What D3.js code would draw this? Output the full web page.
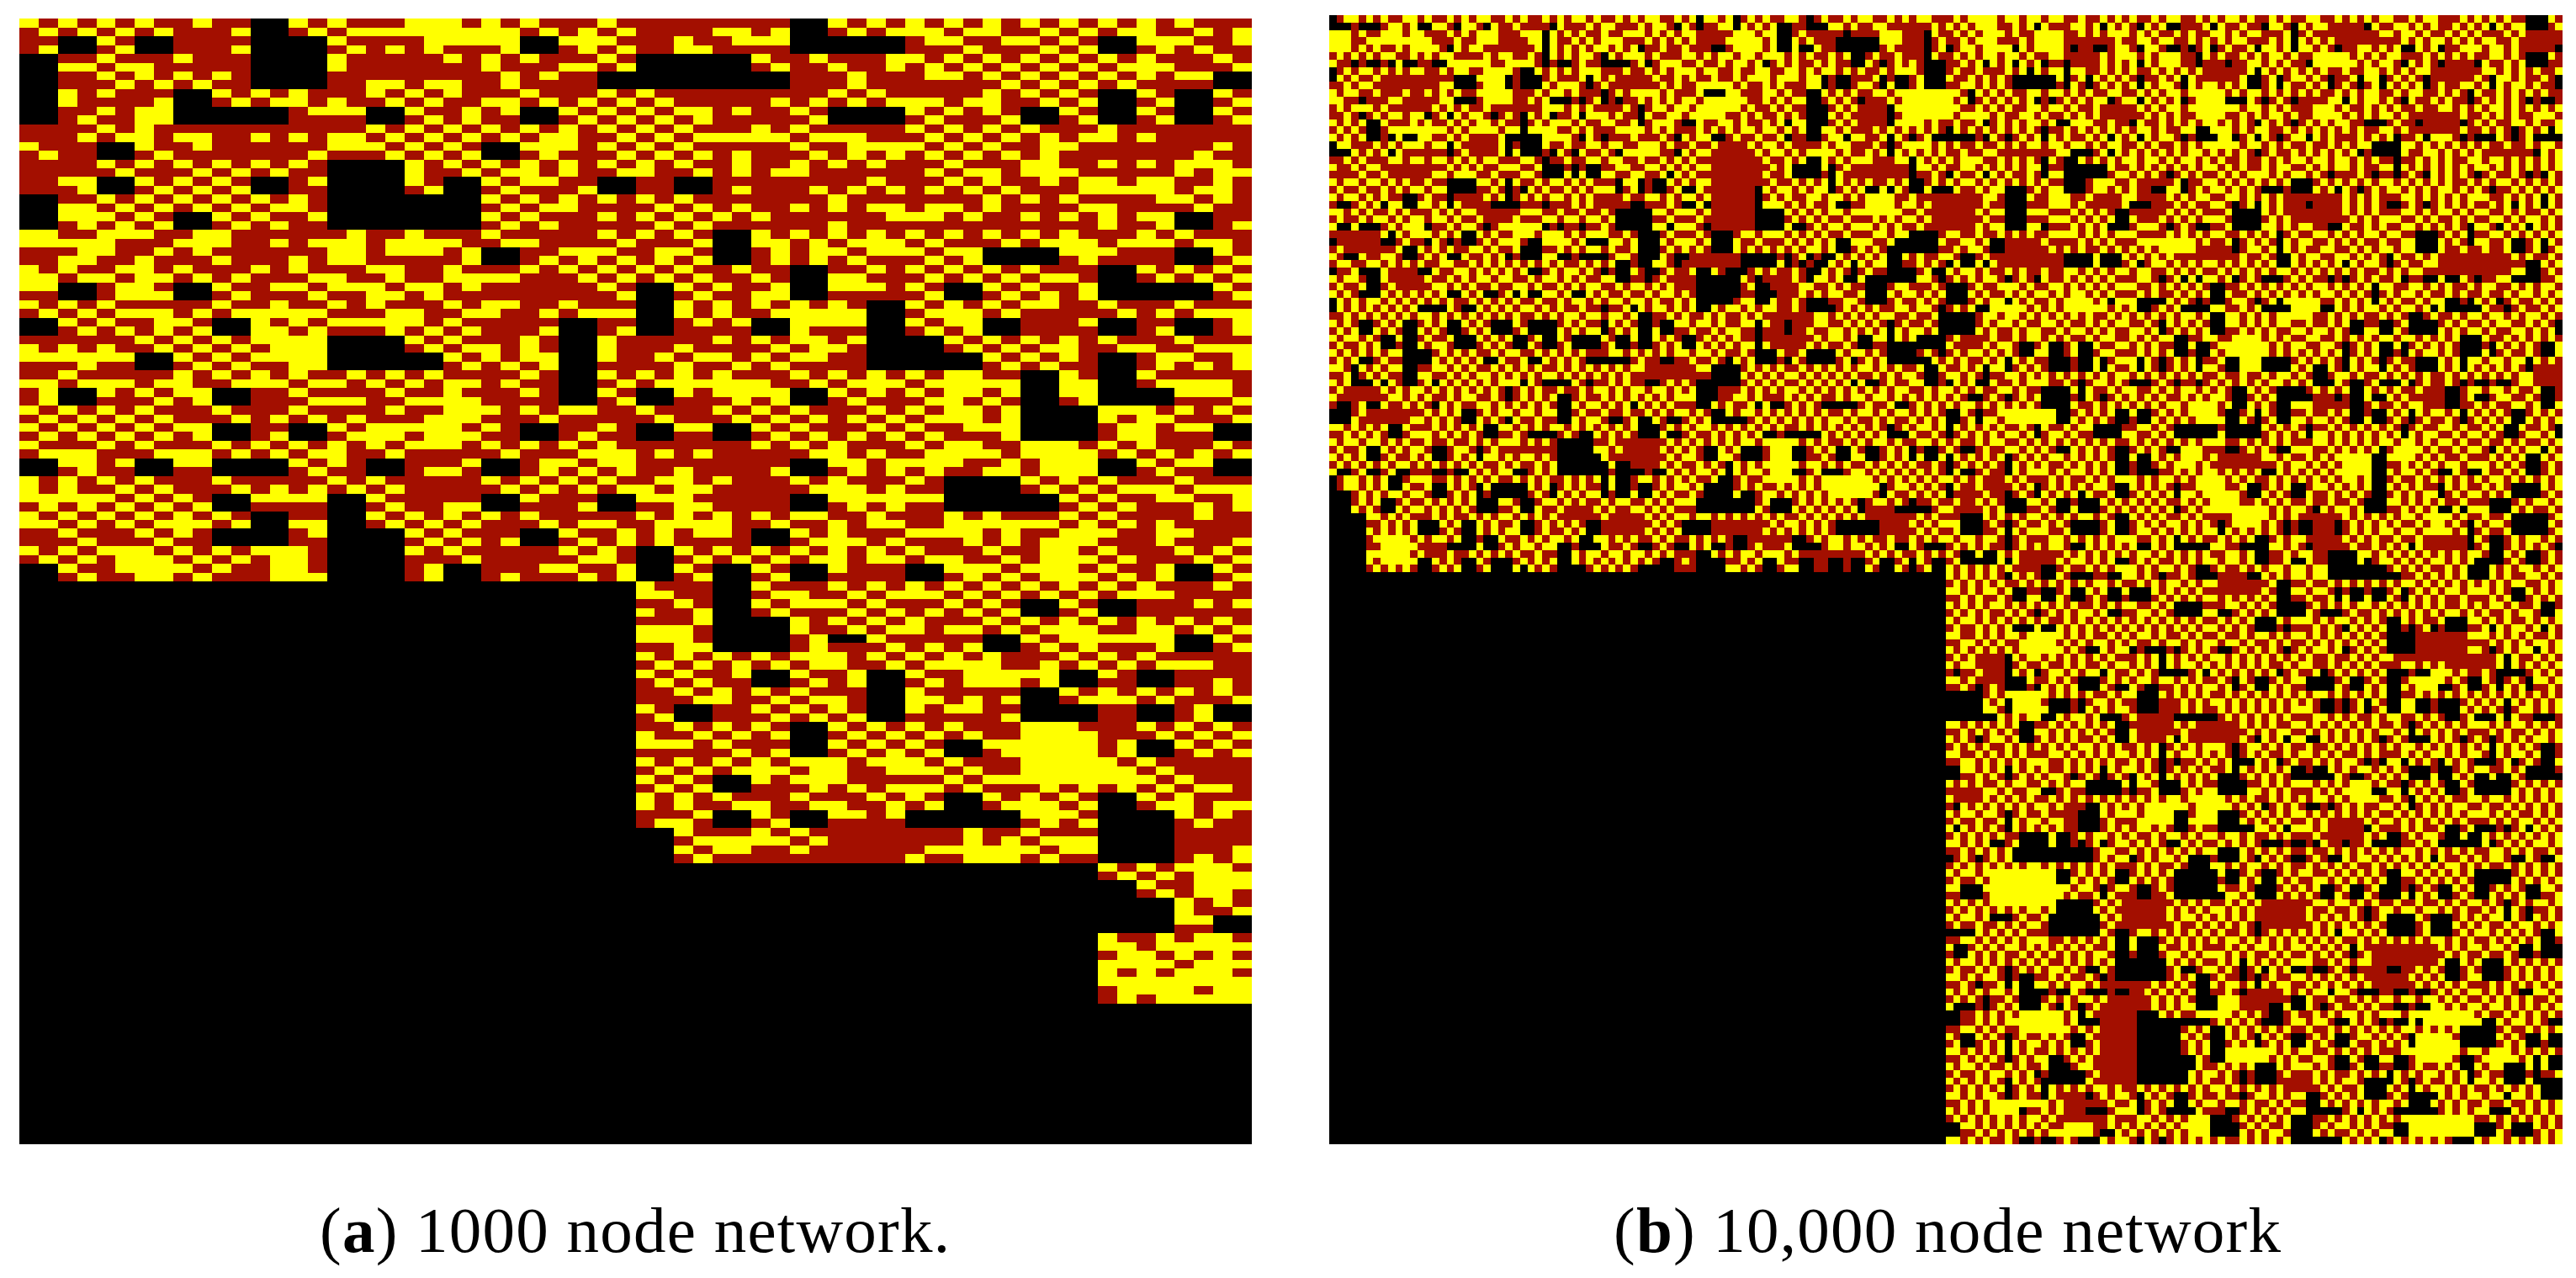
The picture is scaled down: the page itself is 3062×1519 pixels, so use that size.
<!DOCTYPE html>
<meta charset="utf-8">
<style>
body { margin: 0; background: #fff; }
text { font-family: "Liberation Serif", serif; font-size: 77px; fill: #000; }
</style>
<svg width="3062" height="1519"></svg>
<script src="https://d3js.org/d3.v7.min.js"></script>
<script>

// cell values: 0 black, 1 red, 2 yellow
var captions = [
  {tag: "a", text: " 1000 node network."},
  {tag: "b", text: " 10,000 node network"}
];

// 1000 node network, 64 x 128 cells, rows missing their left part are black there
var netA = [
"21212121 12110021 21112221 21211121 11111111 00212121 21212121 21212111",
"12121212 11120012 12222222 22121212 11112212 00121222 12211212 12211212",
"11002100 11110000 21111222 22002221 11211222 00000012 21122121 00222112",
"12001200 11120000 12121211 12001212 11221111 00000011 12111212 00121211",
"00112111 21110000 21111121 21211121 00000021 12111221 21212121 21211121",
"00221221 11110000 21111111 21112212 00000012 11211212 12121212 12221112",
"00112121 21210000 11111111 12121100 00000000 11121112 21212121 21212200",
"00111212 12110000 11221221 12111100 00000000 11121111 11121212 12111100",
"00212111 00212121 11212121 11211121 21111111 11212111 11212121 00210021",
"00211112 00121221 21121211 22121212 12111112 12121222 12211212 00120012",
"00112122 00000012 22002112 12002121 21221211 21000021 21210021 00210021",
"00121122 00000011 11001212 11001212 12121111 12000012 11120012 00120012",
"11112121 11111111 11212121 21212121 21211121 21111121 21212111 21111111",
"11121221 22112121 22121212 12122112 12122222 12221112 12121212 21211111",
"21110021 12111111 22212121 00222121 21211111 21122221 21211221 11111121",
"12110012 11111112 11121212 00121112 12121211 12121212 12121211 11111211",
"11112121 21212121 00002121 21212121 21211211 21212111 21112211 21212221",
"11111211 12121211 00002112 12212112 21121212 21111112 12212221 11112122",
"11220021 21210012 00002100 21221100 11001111 11112111 21211212 21221121",
"11120012 12120011 00001200 12111200 11001211 12121212 12121112 22221221",
"00112121 21212121 00000000 21212121 21211111 11211111 11212121 11122121",
"00221212 12121221 00000000 12122111 12121211 21212212 21211112 21111211",
"00222121 00212112 00000000 21211121 21212121 11111222 12112121 21220011",
"00121212 00121211 00000000 12121111 12121111 11211111 11111111 21120012",
"22112221 12211111 12112111 21111121 21210021 21212121 21212121 11212111",
"22222111 22211212 22122221 12211112 11120022 12122212 11121222 12221221",
"11122112 12111111 22122212 00112221 12210012 12212221 22000022 21110021",
"11221121 11211121 22111112 00121212 12120012 12121112 12000012 11110012",
"21211221 21112121 11221121 11212121 21211211 00112121 21212111 00212121",
"22122122 12121112 21121122 22111212 12121121 00221112 12121221 00121212",
"22001221 00211221 22212212 11111121 00212112 00222121 00212112 00000021",
"11001222 00121112 11221211 11111112 00121122 00111112 00121212 00000012",
"21212111 11211211 21211121 22112111 00212121 21210021 21212211 21112111",
"12121222 12122222 11122112 21121222 00212112 22220012 22121111 12121222",
"00212112 21002121 22222121 11110011 00121200 22220021 22001112 00110012",
"00121212 12002212 11121212 11120012 00111100 21110012 12001111 00120012",
"11111121 21212222 00002121 11210021 11112121 22120000 21212121 21112111",
"21212112 12121222 00001212 21210021 11211112 12210000 12121221 12211222",
"22222200 21212222 00000021 21220021 12122121 22110000 00212121 00122112",
"11121100 12121122 00000012 12120011 11211212 11110000 00121211 00121212",
"11211111 21212121 12121211 11210021 21212111 21212121 22110021 00211111",
"22122212 21122212 21212122 12110012 12222221 12122212 22220022 00122221",
"12002121 22001121 11121121 11210021 00212222 00212121 22120022 00002221",
"12001112 12001112 22112222 11110012 00111212 00121112 21210012 00001112",
"21212121 11211121 11121122 21212211 21112121 21112121 22120000 22212121",
"12121212 11121212 12111222 11121111 12111212 12121212 22120000 21221112",
"21212121 22001100 21222221 21001121 00220021 21112121 12220000 12212200",
"12121212 12001200 12221222 11001211 00110012 12121212 11120000 12211100",
"21112121 11212121 21212221 21212121 11111121 21211121 22112221 21211121",
"12221112 22121212 21121111 12111222 12121111 12212112 22212222 12121212",
"00221200 22000021 21001112 00122122 11111111 00221222 21121222 00212200",
"00121100 11000012 11001221 00121212 11211112 00121212 11221222 00121100",
"21212121 11211111 21211111 21212121 12212111 21211121 00002121 21112111",
"21211212 11121212 12121111 12121212 21221111 12221211 00001212 12221222",
"22222121 21002222 00211111 00211100 22211111 00222222 00000021 21122112",
"12121212 12001111 00121122 00111200 11221111 00121211 00000012 12111212",
"21212121 21210011 00212121 21211111 21212121 22112111 21211121 21111211",
"22121212 22120022 00121212 11121221 12222112 11212211 22222212 12121111",
"11211121 21000012 00002121 11002112 12122100 21211122 22121122 21122111",
"11121112 11000011 00001212 12001212 12111100 12221211 12121222 11121112",
"21212221 21212221 00002121 11112121 00212121 21212121 11211221 21112121",
"12121222 12121221 00001112 11111221 00121212 12212212 21121222 12111212",
"00211222 21211221 00001200 11122112 00210021 00211100 22212221 21120021",
"00121122 12111222 00001200 12111212 00120012 00111100 12121222 12120012",
"21110021 11212121 21212121 21211121",
"22110012 21121222 12121212 12221111",
"11210021 22212111 21210021 00111212",
"21120012 11121212 12120012 00111111",
"11120000 21212121 11212121 21212121",
"22210000 21121221 22121222 11221212",
"22210000 12002111 11002122 22220021",
"11220000 12111212 12001212 11120012",
"21212121 22212121 21211121 21211111",
"12121212 12211212 22211212 12122211",
"21211200 21120021 12222200 21001111",
"12121100 12120012 12221200 11001121",
"11212121 21110021 11110021 21212121",
"11122112 12210022 12120012 22121112",
"21001121 21210021 22110000 11001200",
"12001112 12120011 11120000 11001200",
"11212121 00212121 21112221 11212121",
"21121212 00121212 12112222 11121212",
"22212111 00212121 00222222 12002121",
"11111212 00121212 00122222 12001212",
"21212121 22212221 21112222 21211111",
"12121222 12211222 12112222 22121111",
"21210021 22211111 21222222 22212111",
"12120011 12121222 12111212 12121221",
"21212111 21112121 00212121 00212111",
"21211221 12211212 00122212 00122122",
"11120021 00221200 00002221 00002121",
"12210012 00111100 00001212 00001211",
"00211121 21111111 12112111 00001111",
"00122222 12111111 12121222 00001111",
"00212211 21111112 22222122 00001112",
"00121111 11111121 12221211 00001212",
"21212221", "12121222", "00211222", "00121221", "00002121", "00002112", "00002200", "00001100",
"21121221", "22122222", "12212121", "22221222", "21212221", "22222222", "12222122", "12122222"
];

// 10,000 node network, red and yellow read roughly at twice the cell size: top rows are full width
var netBTop = [
"212212121122 121121212211 212112121221 211212122112 121221211212 112212121121 221121212211 121212112212 212211211212 121121221121 212212112121 122112121212 211212211121 212121122121",
"121121212212 112212221121 121221121112 122111212211 212112212121 221112112212 112211221121 212121211212 121112212121 212212121112 121121122212 212211212121 122121211212 121212212112",
"222121121212 212121212112 112222212121 121122212121 221211121112 212121221221 111222112121 121212221211 112211212122 212121121211 221212211121 121112122112 212212112121 211121212221",
"222112212122 121212112212 211222211212 112211121212 122121211121 122212111212 211222121212 112122211121 221212121112 112212211212 121221112121 212121212211 112121221212 122112121121",
"222121211212 212112122121 121122212121 221212111211 212112122121 211212211222 121121112112 212212222121 121121212112 212221121212 112112122121 221212112212 121121211122 212212121211",
"121212122112 121221111212 211211212122 112122212111 221212212212 121212112121 212112121121 121212212212 112211121212 221212211122 121121212212 112211212121 221112121212 112212121221",
"212111212212 112122121211 221212112121 122121211222 112112122121 121211212112 221212121212 112121212121 221121211212 121212121121 212112212121 121212121212 211212112122 121121221211",
"112122121212 211212211211 212121212122 211121121212 221221121122 112212122121 211212221212 121121112121 212212211212 121121212121 212212121212 121211211221 212122121121 122121212112",
"221211221121 121112122212 121221211121 212212212112 121121121222 122212221121 112211212121 211212121122 121221212121 212112121212 121221212112 212121121221 121212212121 211221211212",
"112122112212 212221211121 211112122212 121212111212 112222212112 121112221211 221121212212 112212121211 212112121212 121212211212 212121212121 121211212121 212121121122 121212212112",
"212211221121 121212112122 212121221211 121212222121 112122221112 212111221212 112212121221 121121212112 212212121122 112121221212 121212212121 212112121221 121221121212 211212121211",
"221121112212 211221221212 111212122121 221111212121 221222222112 121222112121 212121121221 212212121212 112121212221 221212121112 121212121212 121122121221 212211212112 121212121121",
"121222121121 112121211212 212112221212 112121112212 212222221211 212112121212 112212221121 121121212112 212212112221 122121221212 212212212121 212211211212 121121122121 212212121212",
"112111212212 211212122121 212212111212 221211221122 122222112121 121212212121 221121111212 212222121122 121121212221 211212121121 121121212212 112212121212 212121212121 121212112221",
"212122121112 121121212212 112121222121 122112112221 212112212112 121221121212 211212222121 121121121212 212212221121 122112121212 212121121212 121212211212 121212122121 212112212112",
"121211212221 212212121121 221212111212 111222212121 112121212212 212121122121 112121212121 221212121212 121121212121 212212112212 121121221121 212121212112 212121211221 121212121212",
"212122111212 121121212212 112121222122 121112111212 212212121121 122112212212 211222111221 121212212121 212121121212 121212212121 112212121212 212121112121 221121222121 212212121121",
"122111212122 212212121112 212212112112 212211122121 121121212212 212111121221 112111222212 121121121212 212212212122 112121121212 221212212121 121121212212 212212121212 121121121221",
"212212121211 121121212122 121121221221 121122212112 212212121121 221212222121 121222121212 112112212121 221221121212 121212121221 212121212112 121212121122 212112212121 212121221212",
"112121112212 212212121221 112212112112 212211211212 121121222212 112121121212 221112212121 212221121212 112112212121 221221212212 121121121212 212212212121 121121212112 212212121212",
"221212212121 121121212112 221121221212 111221122121 212212112121 212212121121 121121212212 112212121212 221121212121 121212121212 212121121221 121212212112 212121212121 221212121212",
"121121121212 212212221121 112212112121 222112211212 121121221212 112121212212 212212121121 221121212112 112212221212 212121112121 121212221212 212121112121 121212212121 212112121221",
"212212212121 121121112212 221121221212 111222112121 212212122121 211212121212 121121212121 212212121212 121121212221 121212121112 212121212121 121212121212 212121212112 121221212121",
"121121121212 212212221121 112212112121 222112211212 112121212212 122121221121 212212112212 121121221121 212212112212 121121221121 221212121212 112121212121 221212122121 212112121212",
"212212121121 121121212212 212121221212 111221122121 221212121121 212112212212 121221121121 212112212212 112221121211 221112212122 112212121212 221121212121 112212121212 221121212121",
"112121212212 221212121121 121112112212 212212211121 112121212212 221212112121 112121221212 221212112121 112221212122 221112121211 221212121212 112121212121 221212121212 112121212121",
"221212112121 112121221212 212221121121 121112212212 221212121121 112121212212 221212112121 112121221212 221112121212 112221212121 112212121212 221121212121 112212122121 221121211212",
"121121221212 212212112121 121112212212 212221121121 112121212212 221212121121 112121221212 221212112121 112221212121 221112121212 221121212121 112212121212 221121211212 112212122121",
"212212112121 121121221212 212221121121 121112212212 221212121121 112121212212 221212112121 112121221212 221112121212 112221212121 112212122121 221121211212 112212121212 221121212121",
"112121221212 221212112121 112212121212 221121212121 112121212212 221212121121 112212212121 221121121212 112222121212 221111212121 221121212112 112212121221 221121212121 112212121212",
"221212112121 112121221212 221121212121 112212121212 221212121121 112121212212 221121121212 112212212121 221111212121 112222121212 112212121221 221121212112 112212121212 221121212121",
"121212211212 212121122121 121221121212 212112212121 212121121212 121212212121 212112121221 121221212112 212121211212 121212122121 122112212121 211221121212 212212121121 121121212212",
"212121122121 121212211212 212112212121 121221121212 121212212121 212121121212 121221212112 212112121221 121212122121 212121211212 211221121212 122112212121 121121212212 212212121121",
"122112212121 211221121212 121212121121 212121212212 211212121212 122121212121 212212112121 121121221212 212211212121 121122121212 212121212112 121212121221 212112212121 121221121212",
"211221121212 122112212121 212121212212 121212121121 122121212121 211212121212 121121221212 212212112121 121122121212 212211212121 121212121221 212121212112 121221121212 212112212121",
"212212121121 121121212212 211212212121 122121121212 212122112121 121211221212 212121122212 121212211121 221121212121 112212121212 212212121212 121121212121 122112121221 211221212112",
"121121212212 212212121121 122121121212 211212212121 121211221212 212122112121 121212211121 212121122212 112212121212 221121212121 121121212121 212212121212 211221212112 122112121221",
"212121121212 121212212121 212212212112 121121121221 211212121122 122121212211 212121221212 121212112121 221212212121 112121121212 212112121212 121221212121 212212112121 121121221212",
"121212212121 212121121212 121121121221 212212212112 122121212211 211212121122 121212112121 212121221212 112121121212 221212212121 121221212121 212112121212 121121221212 212212112121",
"221212121212 112121212121 212212121121 121121212212 122121221212 211212112121 212112212212 121221121121 212121212212 121212121121 221121212112 112212121221 212212122121 121121211212",
"112121212121 221212121212 121121212212 212212121121 211212112121 122121221212 121221121121 212112212212 121212121121 212121212212 112212121221 221121212112 121121211212 212212122121",
"212122121212 121211212121 221212212121 112121121212 212212112212 121121221121 212121211212 121212122121 122121121212 211212212121 212212121221 121121212112 212112212121 121221121212",
"121211212121 212122121212 112121121212 221212212121 121121221121 212212112212 121212122121 212121211212 211212212121 122121121212 121121212112 212212121221 121221121212 212112212121",
"212212121212 121121212121 212121221212 121212112121 221212121121 112121212212 212212122121 121121211212 212121121221 121212212112 211221212121 122112121212 212212121212 121121212121",
"121121212121 212212121212 121212112121 212121221212 112121212212 221212121121 121121211212 212212122121 121212212112 212121121221 122112121212 211221212121 121121212121 212212121212",
"212121212212 121212121121 221121212121 112212121212 212212112121 121121221212 212112121212 121221212121 221212121221 112121212112 212121221212 121212112121 212212212121 121121121212",
"121212121121 212121212212 112212121212 221121212121 121121221212 212212112121 121221212121 212112121212 112121212112 221212121221 121212112121 212121221212 121121121212 212212212121",
"221121212212 112212121121 212121121212 121212212121 212212121212 121121212121 221212112212 112121221121 212121212121 121212121212 212212212112 121121121221 212121221212 121212112121",
"112212121121 221121212212 121212212121 212121121212 121121212121 212212121212 112121221121 221212112212 121212121212 212121212121 121121121221 212212212112 121212112121 212121221212",
"212121212121 121212121212 221212212212 112121121121 212212121212 121121212121 212121122121 121212211212 221121212212 112212121121 212121212212 121212121121 212212112121 121121221212",
"121212121212 212121212121 112121121121 221212212212 121121212121 212212121212 121212211212 212121122121 112212121121 221121212212 121212121121 212121212212 121121221212 212212112121",
"212212112212 121121221121 212121212121 121212121212 221212122121 112121211212 212212121212 121121212121 212121221212 121212112121 221121212121 112212121212 212112212212 121221121121",
"121121221121 212212112212 121212121212 212121212121 112121211212 221212122121 121121212121 212212121212 121212112121 212121221212 112212121212 221121212121 121221121121 212112212212",
"212121122121 121212211212 212212212121 121121121212 212121212212 121212121121 221212212121 112121121212 212121212121 121212121212 212212121221 121121212112 212121221212 121212112121",
"121212211212 212121122121 121121121212 212212212121 121212121121 212121212212 112121121212 221212212121 121212121212 212121212121 121121212112 212212121221 121212112121 212121221212",
"221212121121 112121212212 212121221212 121212112121 212212121212 121121212121 212121212212 121212121121 221121221212 112212112121 212212121212 121121212121 212121122121 121212211212",
"112121212212 221212121121 121212112121 212121221212 121121212121 212212121212 121212121121 212121212212 112212112121 221121221212 121121212121 212212121212 121212211212 212121122121",
"212212212121 121121121212 221212121212 112121212121 212121212212 121212121121 212212112212 121121221121 212121212121 121212121212 221121212121 112212121212 212212122121 121121211212",
"121121121212 212212212121 112121212121 221212121212 121212121121 212121212212 121121221121 212212112212 121212121212 212121212121 112212121212 221121212121 121121211212 212212122121",
"212121212112 121212121221 212212121212 121121212121 221212212121 112121121212 212121212212 121212121121 212212121212 121121212121 212121122121 121212211212 221212121121 112121212212",
"121212121221 212121212112 121121212121 212212121212 112121121212 221212212121 121212121121 212121212212 121121212121 212212121212 121212211212 212121122121 112121212212 221212121121",
"221121212121 112212121212 212121221212 121212112121 212212121221 121121212112 212121212121 121212121212 221212212121 112121121212 212121221212 121212112121 212212121212 121121212121",
"112212121212 221121212121 121212112121 212121221212 121121212112 212212121221 121212121212 212121212121 112121121212 221212212121 121212112121 212121221212 121121212121 212212121212",
"212212121121 121121212212 221212112121 112121221212 212121212121 121212121212 212212212121 121121121212 212121212212 121212121121 221121212121 112212121212 212121122121 121212211212",
"121121212212 212212121121 112121221212 221212112121 121212121212 212121212121 121121121212 212212212121 121212121121 212121212212 112212121212 221121212121 121212211212 212121122121",
"212121212121 121212121212 212112212121 121221121212 221212121212 112121212121 212212121121 121121212212 212121221212 121212112121 212212212121 121121121212 221212121121 112121212212",
"121212121212 212121212121 121221121212 212112212121 112121212121 221212121212 121121212212 212212121121 121212112121 212121221212 121121121212 212212212121 112121212212 221212121121",
"221212212121 112121121212 212121212121 121212121212 212212121212 121121212121 221121212121 112212121212 212121221212 121212112121 212112121212 121221212121 212212112121 121121221212",
"112121121212 221212212121 121212121212 212121212121 121121212121 212212121212 112212121212 221121212121 121212112121 212121221212 121221212121 212112121212 121121221212 212212112121",
"212212121212 121121212121 221212112121 112121221212 212121212212 121212121121 212212212121 121121121212 221121212121 112212121212 212121212121 121212121212 212212122121 121121211212",
"121121212121 212212121212 112121221212 221212112121 121212121121 212121212212 121121121212 212212212121 112212121212 221121212121 121212121212 212121212121 121121211212 212212122121",
"212121121212 121212212121 212212212121 121121121212 221212121121 112121212212 212121221212 121212112121 212212121212 121121212121 221121212212 112212121121 212121212121 121212121212",
"121212212121 212121121212 121121121212 212212212121 112121212212 221212121121 121212112121 212121221212 121121212121 212212121212 112212121121 221121212212 121212121212 212121212121",
"221212121212 112121212121 212121212212 121212121121 212212112121 121121221212 212121212121 121212121212 221212212121 112121121212 212212121121 121121212212 212121221212 121212112121",
"112121212121 221212121212 121212121121 212121212212 121121221212 212212112121 121212121212 212121212121 112121121212 221212212121 121121212212 212212121121 121212112121 212121221212"
];

// bottom rows start at column 84, left of that the block is black
var netBBottom = [
"212121212212 121212121121 221212112121 112121221212 212212121212 121121212121 212121122121",
"121212121121 212121212212 112121221212 221212112121 121121212121 212212121212 121212211212",
"221212212121 112121121212 212121212121 121212121212 212212121121 121121212212 221212121212",
"112121121212 221212212121 121212121212 212121212121 121121212212 212212121121 112121212121",
"212121221212 121212112121 221121212121 112212121212 212121212212 121212121121 212212112121",
"121212112121 212121221212 112212121212 221121212121 121212121121 212121212212 121121221212",
"212212121212 121121212121 212121212121 121212121212 221212212121 112121121212 212121121212",
"121121212121 212212121212 121212121212 212121212121 112121121212 221212212121 121212212121",
"221121212212 112212121121 212212112121 121121221212 212121212121 121212121212 221212121121",
"112212121121 221121212212 121121221212 212212112121 121212121212 212121212121 112121212212",
"212121212121 121212121212 221212121212 112121212121 212212212121 121121121212 212121221212",
"121212121212 212121212121 112121212121 221212121212 121121121212 212212212121 121212112121",
"212212122121 121121211212 212121212212 121212121121 221121212121 112212121212 212212121212",
"121121211212 212212122121 121212121121 212121212212 112212121212 221121212121 121121212121",
"221212121212 112121212121 212212212121 121121121212 212121212121 121212121212 221212112212",
"112121212121 221212121212 121121121212 212212212121 121212121212 212121212121 112121221121",
"212121212212 121212121121 221212121212 112121212121 212212121212 121121212121 212121212121",
"121212121121 212121212212 112121212121 221212121212 121121212121 212212121212 121212121212",
"212212212121 121121121212 212121212121 121212121212 221121212212 112212121121 212121221212",
"121121121212 212212212121 121212121212 212121212121 112212121121 221121212212 121212112121",
"221212121212 112121212121 212212121221 121121212112 212121212121 121212121212 221212212121",
"112121212121 221212121212 121121212112 212212121221 121212121212 212121212121 112121121212",
"212121221212 121212112121 221212212121 112121121212 212212121212 121121212121 212121212212",
"121212112121 212121221212 112121121212 221212212121 121121212121 212212121212 121212121121",
"221121212121 112212121212 212121212212 121212121121 221212112121 112121221212 212212212121",
"112212121212 221121212121 121212121121 212121212212 112121221212 221212112121 121121121212",
"212212121212 121121212121 221212121212 112121212121 212121212212 121212121121 221121212121",
"121121212121 212212121212 112121212121 221212121212 121212121121 212121212212 112212121212",
"212121121221 121212212112 212212212121 121121121212 221212121212 112121212121 212121212121",
"121212212112 212121121221 121121121212 212212212121 112121212121 221212121212 121212121212",
"221212121212 112121212121 212121221212 121212112121 212212121221 121121212112 212212121212",
"112121212121 221212121212 121212112121 212121221212 121121212112 212212121221 121121212121",
"212212212121 121121121212 221121212121 112212121212 212121212121 121212121212 221212112121",
"121121121212 212212212121 112212121212 221121212121 121212121212 212121212121 112121221212",
"212121212212 121212121121 212212112121 121121221212 221212212121 112121121212 212121212121",
"121212121121 212121212212 121121221212 212212112121 112121121212 221212212121 121212121212",
"221212121221 112121212112 212121212121 121212121212 212212121212 121121212121 221121212212",
"112121212112 221212121221 121212121212 212121212121 121121212121 212212121212 112212121121",
"212121212121 121212121212 221212212121 112121121212 212121212212 121212121121 212212121212",
"121212121212 212121212121 112121121212 221212212121 121212121121 212121212212 121121212121",
"212212121212 121121212121 212121221212 121212112121 221121212121 112212121212 212121212121",
"121121212121 212212121212 121212112121 212121221212 112212121212 221121212121 121212121212",
"221212112121 112121221212 212212121212 121121212121 212121212121 121212121212 221212121221",
"112121221212 221212112121 121121212121 212212121212 121212121212 212121212121 112121212112",
"212121212121 121212121212 221212121212 112121212121 212212212121 121121121212 212121212212",
"121212121212 212121212121 112121212121 221212121212 121121121212 212212212121 121212121121",
"212212212121 121121121212 212121212212 121212121121 221212121212 112121212121 212212112121",
"121121121212 212212212121 121212121121 212121212212 112121212121 221212121212 121121221212",
"221121212121 112212121212 212212121212 121121212121 212121221212 121212112121 221212121212",
"112212121212 221121212121 121121212121 212212121212 121212112121 212121221212 112121212121",
"212121212212 121212121121 221212112121 112121221212 212121212121 121212121212 212212212121",
"121212121121 212121212212 112121221212 221212112121 121212121212 212121212121 121121121212",
"212212121212 121121212121 212121212121 121212121212 221121212212 112212121121 212121212121",
"121121212121 212212121212 121212121212 212121212121 112212121121 221121212212 121212121212",
"221212212121 112121121212 212212121221 121121212112 212121212121 121212121212 221212121212",
"112121121212 221212212121 121121212112 212212121221 121212121212 212121212121 112121212121",
"212121221212 121212112121 221212121212 112121212121 212212212121 121121121212 212121212212",
"121212112121 212121221212 112121212121 221212121212 121121121212 212212212121 121212121121",
"212212121212 121121212121 212121212212 121212121121 221212112121 112121221212 212212121212",
"121121212121 212212121212 121212121121 212121212212 112121221212 221212112121 121121212121",
"221121212212 112212121121 212121212121 121212121212 212212121212 121121212121 221212212121",
"112212121121 221121212212 121212121212 212121212121 121121212121 212212121212 112121121212",
"212121212121 121212121212 221212212121 112121121212 212121212212 121212121121 212212121212",
"121212121212 212121212121 112121121212 221212212121 121212121121 212121212212 121121212121",
"221212121212 112121212121 212212121212 121121212121 221121212121 112212121212 212121212121",
"112121212121 221212121212 121121212121 212212121212 112212121212 221121212121 121212121212",
"212212112121 121121221212 212121212121 121212121212 221212212121 112121121212 212212121221",
"121121221212 212212112121 121212121212 212121212121 112121121212 221212212121 121121212112",
"212121212212 121212121121 221212121212 112121212121 212121221212 121212112121 221212121212",
"121212121121 212121212212 112121212121 221212121212 121212112121 212121221212 112121212121",
"221212212121 112121121212 212212112121 121121221212 212121212121 121212121212 212212212121",
"112121121212 221212212121 121121221212 212212112121 121212121212 212121212121 121121121212",
"212121212121 121212121212 221121212121 112212121212 212212121212 121121212121 221212121212",
"121212121212 212121212121 112212121212 221121212121 121121212121 212212121212 112121212121",
"212212121212 121121212121 212121212212 121212121121 221212212121 112121121212 212121212121",
"121121212121 212212121212 121212121121 212121212212 112121121212 221212212121 121212121212",
"221212112121 112121221212 212212121212 121121212121 212121212121 121212121212 212212121212"
];

// solid patches and black blocks of the 10,000 node panel: first row, last row, first column, last column
var netBRed = [
[19,28,52,58],[17,20,53,56],[134,143,105,110],[129,133,106,110],[2,4,22,25],[22,26,110,113],[64,67,120,125],[125,130,142,146],[40,44,60,64],[57,60,40,44],[3,6,100,104],[30,33,92,96],[72,74,64,70],[92,96,110,114],[118,122,108,113],[145,149,100,104],
[0,1,27,28],[2,3,22,24],[2,3,14,15],[6,6,1,2],[8,9,10,14],[8,10,7,9],[8,10,25,26],[8,9,39,43],[10,12,22,26],[11,12,10,12],[12,12,36,39],[16,18,19,22],[18,18,11,13],[20,21,1,2],[20,21,8,13],[24,25,18,20],[25,25,31,32],[26,27,21,24],[24,25,36,39],[29,30,1,5],[29,31,3,6],
[2,4,50,52],[1,5,78,81],[2,3,66,69],[6,8,119,123],[1,3,137,141],[2,4,163,166],[6,8,150,155],[11,14,72,75],[12,13,105,109],[11,13,132,135],[18,18,157,163],[13,15,147,153],[20,21,71,78],[18,18,91,97],[24,28,82,87],[24,25,104,107],[24,27,131,137],[31,32,117,123],[32,34,151,160],[32,33,48,56],[32,33,91,99],
[34,36,9,12],[35,36,47,49],[35,37,60,62],[46,48,43,48],[47,48,45,49],[50,51,2,5],[53,54,5,10],[58,58,26,30],[50,51,53,54],[66,67,32,35],[67,69,38,42],[68,69,52,58],[70,70,57,62],[66,69,73,78],[74,75,44,49],[71,72,13,15],
[43,44,86,88],[59,60,121,126],[61,64,90,91],[64,66,86,87],[67,71,133,137],[70,71,150,154],[47,49,164,167],[51,52,134,138],[50,52,149,154],[72,74,94,98],[75,77,121,126],
[83,86,146,154],[86,87,153,158],[86,89,89,91],[94,97,110,113],[95,97,118,123],[106,109,100,102],[104,105,85,88],[119,122,127,132],[108,111,136,140],[125,127,146,150],[131,133,125,129],[143,144,130,133]
];
var netBYellow = [
[2,4,0,2],[7,11,21,24],[10,13,78,84],[43,47,123,126],[57,62,60,63],[62,64,68,73],[70,73,7,10],[115,119,90,99],[3,5,60,61],[15,17,119,122],[30,31,113,117],[83,85,95,98],[132,134,118,122],[137,140,148,152],[52,55,118,120],[105,108,118,121],[24,26,73,76],[0,1,88,90],[38,40,130,133],[66,68,123,126],
[2,3,7,9],[3,4,12,13],[2,3,20,22],[3,3,37,38],[6,6,17,20],[6,6,24,26],[15,16,11,13],[15,15,19,21],[15,16,28,30],[17,18,42,43],[28,29,25,27],[29,30,29,31],[27,28,11,12],
[134,135,147,155],[148,150,147,155],[134,136,94,99],[139,140,122,127],[148,150,117,120],[146,147,90,94],[149,150,100,103],[139,140,158,160],
[103,105,139,141],[106,108,111,115],[88,90,148,151],[91,93,93,96],
[2,4,55,57],[2,4,96,99],[5,6,113,115],[5,6,134,138],[10,13,118,121],[12,13,134,136],
[38,39,90,93],[38,39,100,103],[53,54,92,99],[58,60,116,117],[62,63,118,121],[59,61,138,141],[64,66,120,123],[67,69,150,151],[58,59,145,147]
];
var netBBlack = [
[0,1,0,0],[1,1,0,2],[1,1,4,6],[1,1,12,13],[1,1,17,17],[1,1,21,21],[1,1,30,30],[2,6,29,29],[4,4,16,16],[4,4,42,42],[6,6,3,3],[6,6,5,6],[6,6,8,8],[6,6,10,11],[6,6,14,15],[6,6,31,32],[5,6,37,37],[6,6,37,40],[7,8,0,0],[8,9,17,19],[8,9,24,24],[7,9,26,27],[8,9,26,28],[8,9,35,35],[10,11,37,37],[11,11,4,4],[11,11,17,19],[11,11,30,32],[11,11,34,34],[11,11,39,39],[12,13,42,42],[13,13,4,4],[13,13,13,13],[13,13,16,16],[13,13,22,22],[13,15,26,26],[13,13,30,30],[13,13,34,34],[14,16,5,6],[16,16,8,8],[16,16,10,11],[16,16,24,28],[17,18,26,28],[16,16,34,34],[16,16,37,37],[17,17,0,0],[18,18,0,2],[17,18,16,16],[17,18,24,24],[18,18,8,8],[18,18,30,30],[18,18,33,33],[18,18,39,39],[19,19,29,29],[20,21,29,31],[20,21,33,33],[20,21,35,36],[22,23,16,19],[24,24,16,16],[22,24,24,24],[25,25,22,25],[22,23,39,39],[22,23,42,42],[23,23,26,26],[24,25,10,11],[25,25,1,2],[25,25,7,7],[25,25,29,29],[24,25,16,16],[26,28,39,42],[25,25,41,42],[28,28,1,2],[28,28,4,6],[28,28,13,13],[28,28,21,21],[28,28,29,29],[28,28,31,31],[28,28,34,34],[29,30,8,8],[30,30,7,8],[29,30,18,19],[30,30,0,0],[30,30,13,13],[30,30,16,16],[30,31,27,28],[30,30,35,37],[30,31,42,43],[31,31,10,11],[31,31,26,28],
[0,1,50,50],[0,1,55,55],[0,0,65,65],[1,1,65,67],[1,1,47,47],[1,1,96,96],[1,1,105,105],[1,1,110,110],[1,1,114,115],[1,1,120,120],[1,1,127,127],[1,1,131,131],[1,1,141,141],[1,1,158,158],[0,1,163,165],[1,4,61,62],[2,3,70,70],[3,4,69,74],[5,6,71,72],[2,5,81,81],[6,9,81,83],[2,4,131,131],[4,4,52,53],[4,4,64,65],[4,4,84,84],[4,4,93,93],[4,4,101,101],[4,4,104,105],[4,4,110,110],[4,4,114,115],[4,4,117,117],[4,4,120,120],[4,4,126,126],[4,4,137,137],[4,4,146,147],[4,4,151,151],[4,4,167,167],[6,6,43,43],[6,6,59,59],[6,6,75,75],[6,6,89,89],[6,6,93,93],[6,6,97,97],[6,9,100,100],[6,6,110,110],[5,6,118,118],[6,6,122,122],[6,6,133,133],[6,6,146,146],[6,6,151,151],[6,6,156,156],[5,6,163,165],[8,9,67,67],[8,9,69,70],[8,9,75,75],[8,9,77,78],[8,9,93,98],[7,7,95,95],[8,9,103,103],[8,9,110,110],[8,9,116,116],[8,9,125,126],[7,7,126,126],[8,9,129,129],[8,9,136,136],[8,9,140,140],[8,9,143,143],[8,9,149,149],[8,9,158,158],[8,9,167,167],
[10,10,51,53],[10,16,65,66],[12,14,66,67],[11,11,72,72],[10,11,87,87],[11,11,96,96],[11,11,98,98],[11,11,106,106],[11,11,110,110],[11,11,116,116],[11,11,122,124],[11,11,127,127],[11,11,131,131],[11,11,138,138],[11,11,146,146],[10,11,155,155],[11,11,163,163],[11,11,165,166],[12,14,76,76],[12,14,42,42],[14,14,48,49],[14,14,62,62],[14,14,89,89],[14,14,99,100],[14,14,109,109],[14,14,126,126],[14,14,131,131],[14,14,141,143],[14,14,148,148],[14,14,154,154],[15,15,84,84],[16,16,82,87],[15,16,97,97],[15,16,118,119],[16,16,120,120],[15,16,161,161],[15,15,166,166],[16,16,164,167],[16,16,47,47],[16,16,52,53],[16,16,62,62],[16,16,70,70],[16,18,76,76],[16,16,79,79],[16,16,89,89],[16,16,92,92],[16,16,106,106],[16,16,110,110],[16,16,116,116],[16,16,123,123],[16,16,126,126],[16,16,129,129],[16,16,133,133],[16,16,149,149],[16,16,154,154],[16,16,156,158],[17,18,142,144],[16,21,145,145],[18,18,140,140],[18,18,101,103],[18,18,106,106],[18,18,47,47],[18,18,126,126],[18,18,164,164],
[21,21,46,46],[20,21,63,64],[19,21,65,66],[20,23,68,68],[19,21,79,79],[21,21,84,84],[21,21,89,89],[19,21,97,97],[19,23,100,101],[20,21,101,105],[21,21,114,114],[21,21,136,136],[21,21,142,142],[21,21,149,149],[21,21,156,156],[21,21,163,163],[21,21,165,165],[22,23,44,45],[23,23,48,49],[23,23,73,74],[23,23,76,76],[22,23,79,80],[23,23,82,84],[22,23,100,102],[23,23,112,113],[22,23,116,116],[23,23,127,129],[22,23,131,133],[23,23,137,137],[23,23,140,140],[23,23,158,158],[23,28,58,58],[26,28,58,61],[23,28,92,94],[25,25,48,49],[25,25,51,51],[25,25,69,70],[25,25,109,111],[25,25,126,126],[25,25,133,133],[25,25,144,145],[25,25,149,149],[25,25,161,161],[24,25,165,165],[25,28,123,123],[26,28,123,126],[26,28,42,43],[26,28,107,108],[28,28,106,108],[28,28,63,64],[28,28,46,46],[28,28,51,51],[28,28,97,97],[28,28,114,114],[28,28,118,119],[28,28,136,137],[28,30,155,155],[28,28,159,159],[28,28,163,163],
[29,33,42,43],[29,31,44,44],[29,31,52,54],[30,31,69,70],[30,31,77,82],[29,29,79,82],[30,31,90,91],[30,31,123,123],[29,33,129,129],[32,33,130,130],[29,31,148,150],[30,31,161,162],[30,31,165,165],[33,33,47,47],[32,33,56,60],[33,33,62,62],[33,33,64,64],[33,33,66,67],[31,35,76,76],[35,35,76,79],[33,33,84,84],[32,33,86,87],[33,33,89,89],[32,33,100,103],[32,33,105,107],[33,33,110,110],[33,33,138,138],[32,33,144,144],[33,35,163,164],[35,35,43,43],[35,35,50,55],[35,35,65,65],[35,35,70,71],[35,35,83,83],[35,35,92,92],[35,35,96,96],[35,35,113,113],[35,35,116,116],[35,35,118,118],[35,35,123,123],[35,35,127,129],[35,35,136,136],[35,35,138,138],[35,35,146,146],[35,35,149,150],[35,35,152,153],[35,35,156,156],[35,35,161,163],[36,38,50,54],[36,38,58,59],[36,38,73,75],[36,38,84,86],[36,38,120,121],[36,38,142,142],[38,38,106,106],[38,38,112,113],[38,38,118,118],[38,38,126,126],[38,38,155,155],[38,38,159,159],[38,38,92,92],[39,39,50,50],[39,39,65,65],[39,39,110,110],[39,39,129,129],[39,39,152,152],
[32,32,2,3],[32,32,10,11],[32,32,16,17],[32,32,24,24],[32,32,26,28],[32,32,31,32],[32,32,34,37],[32,32,42,44],[32,32,47,48],[32,32,62,62],[32,32,65,65],[32,32,67,68],[32,33,76,77],[34,34,0,0],[34,34,4,6],[34,34,12,13],[34,34,27,28],[34,34,37,37],[33,35,39,40],[34,34,43,44],[34,39,50,51],[34,34,54,56],[34,34,65,66],[33,35,71,71],[34,35,76,79],[34,34,82,83],[35,37,5,6],[37,37,4,6],[37,37,16,17],[37,37,21,22],[37,37,25,25],[37,37,27,28],[37,37,33,34],[35,37,50,55],[35,37,58,58],[37,37,58,60],[35,37,73,75],[38,39,0,0],[38,39,65,67],[39,39,65,68],[39,39,12,13],[39,39,14,15],[39,39,18,19],[39,39,37,37],[39,39,41,41],[41,42,4,5],[41,49,10,11],[41,42,16,17],[41,42,22,24],[41,42,27,30],[41,42,37,37],[40,42,42,43],[41,42,45,46],[41,42,58,58],[41,42,62,62],[41,43,76,76],[41,42,83,85],
[43,44,7,8],[43,44,17,19],[43,44,25,26],[43,44,29,30],[43,44,33,34],[43,44,35,36],[43,44,39,40],[43,44,42,43],[43,44,48,49],[43,44,58,58],[43,44,72,73],[44,46,76,79],[43,44,80,81],[43,44,82,83],[45,46,10,13],[46,46,4,5],[46,46,21,22],[46,46,27,28],[46,46,35,38],[46,46,39,40],[46,46,45,46],[46,46,54,54],[45,46,58,60],[46,46,62,62],[45,46,65,68],[46,46,71,71],[46,46,80,81],[47,48,3,3],[49,49,3,5],[49,49,7,7],[49,49,14,14],[49,49,26,26],[49,49,29,30],[49,49,31,32],[49,49,35,35],[49,49,43,44],[49,52,50,51],[47,49,52,55],[49,49,71,71],[49,49,73,74],[47,49,81,82],[50,51,24,24],[50,51,50,52],[52,52,1,2],[52,52,5,6],[52,52,14,14],[51,54,31,32],[52,52,41,41],[52,52,58,58],[52,52,60,61],[52,52,67,68],[52,52,69,71],[52,52,77,78],[53,54,0,2],[53,54,18,19],[54,54,24,24],[54,54,38,39],[54,56,42,43],[54,54,46,47],[53,53,52,53],[54,54,52,56],[54,54,84,84],
[55,56,8,9],[55,56,21,22],[56,56,27,30],[55,56,42,44],[56,56,46,47],[56,56,59,60],[56,56,62,64],[56,56,65,66],[55,55,76,76],[56,56,76,78],[56,56,84,84],[57,59,31,35],[59,60,31,36],[60,61,31,37],[56,56,34,35],[58,59,5,6],[58,59,14,15],[58,59,20,20],[58,59,51,52],[58,59,56,58],[58,59,63,64],[58,59,69,70],[58,59,73,74],[58,59,79,79],[58,59,81,82],[60,64,39,40],[61,61,39,42],[61,61,1,2],[61,61,5,6],[61,61,9,10],[61,61,14,15],[61,61,17,18],[61,61,25,26],[61,61,44,45],[60,62,54,54],[61,61,63,64],[61,61,67,69],[60,61,84,84],[62,63,8,9],[62,64,37,37],[62,62,53,54],[63,64,51,54],[64,64,56,57],[63,64,14,15],[63,64,20,20],[63,64,22,24],[63,64,25,26],[63,64,30,30],[63,64,42,43],[63,64,75,75],[63,64,84,84],[62,63,0,0],[64,66,0,2],[67,75,0,4],[65,66,7,8],[65,66,20,22],[65,66,26,27],[65,66,50,57],[65,66,60,62],[65,66,72,72],[66,66,77,81],[65,65,79,79],
[68,69,12,14],[68,71,18,19],[68,69,26,27],[68,69,35,36],[68,69,48,51],[68,69,69,72],[68,69,73,74],[70,71,21,22],[70,70,34,35],[71,71,34,36],[71,71,16,17],[71,71,42,43],[71,71,47,48],[71,71,52,53],[70,71,55,56],[70,71,63,64],[71,71,65,66],[71,71,77,78],[71,71,81,83],[71,75,31,32],[72,75,50,51],[73,74,12,13],[73,74,18,19],[73,74,22,24],[73,74,45,46],[73,74,52,53],[73,74,59,60],[73,74,64,65],[73,74,68,69],[73,74,71,72],[73,74,75,76],[73,74,79,79],[73,74,82,83],[74,75,26,26],[74,75,31,34],[74,75,42,44],[74,75,50,52],[75,75,14,15],[75,75,18,19],[75,75,77,78],
[38,39,110,111],[38,38,129,129],[39,39,127,130],[38,38,152,153],[39,39,152,156],[39,39,88,89],[39,39,83,83],[39,39,116,119],[39,39,135,136],[39,39,150,150],[39,39,160,160],[40,42,83,87],[40,42,120,121],[41,42,113,113],[41,42,139,140],[41,42,143,144],[40,40,147,148],[41,42,147,150],[41,42,167,167],[44,45,83,83],[44,45,94,95],[44,45,98,99],[44,45,102,103],[43,45,115,116],[44,45,118,119],[44,45,138,138],[44,45,143,144],[44,45,146,146],[43,45,154,156],[44,45,158,158],[44,45,165,166],[46,47,92,92],[46,47,98,100],[46,47,102,103],[46,47,105,105],[46,47,110,110],[46,47,113,113],[46,47,118,118],[46,47,122,123],[46,47,127,130],[46,47,138,138],[46,47,143,143],[46,47,148,150],[46,47,154,154],[46,47,163,163],[47,48,89,89],[49,49,88,89],[49,49,84,84],[49,51,102,102],[49,49,109,111],[49,49,115,115],[49,49,118,118],[47,49,134,135],[49,49,134,136],[49,52,139,140],[49,49,143,145],[49,49,147,147],[49,49,154,154],[49,49,156,157],[49,49,159,160],
[50,52,97,98],[50,52,99,100],[50,52,123,124],[50,54,129,130],[50,50,131,132],[51,51,130,133],[51,51,87,88],[51,51,92,92],[51,51,105,105],[51,51,137,137],[51,51,142,143],[50,52,152,153],[51,51,156,157],[50,52,165,166],[53,54,84,85],[53,54,88,88],[53,54,99,100],[53,54,107,108],[53,54,110,111],[53,54,122,123],[53,56,126,126],[53,54,139,140],[53,54,142,143],[53,54,147,147],[53,54,154,154],[53,54,161,162],[55,56,84,84],[55,56,96,96],[55,56,104,107],[55,56,115,118],[55,56,119,120],[55,56,122,123],[55,56,124,126],[55,56,133,133],[55,56,146,146],[55,56,160,161],[55,56,167,167],[58,58,86,87],[58,58,99,100],[58,58,114,115],[58,58,122,123],[58,58,129,130],[58,58,143,143],[58,58,158,158],[58,58,165,165],[59,61,84,84],[59,61,92,92],[58,61,107,108],[59,60,110,111],[61,61,110,112],[59,66,142,143],[59,61,163,164],[61,61,86,87],[61,61,127,128],[61,61,151,152],[61,61,155,156],
[63,64,84,84],[63,64,96,96],[63,64,107,108],[63,64,115,115],[63,64,125,126],[63,64,131,132],[63,64,151,151],[63,64,161,164],[64,64,92,92],[65,66,92,94],[65,66,99,100],[64,64,102,102],[65,66,102,104],[66,66,115,115],[66,66,134,134],[65,66,141,143],[66,66,151,152],[66,66,154,154],[65,66,158,160],[67,69,86,88],[68,71,92,92],[68,69,101,102],[68,69,103,104],[67,69,107,108],[68,69,121,121],[68,69,130,130],[68,69,132,133],[68,69,137,137],[68,69,155,155],[67,69,161,165],[71,71,83,83],[71,71,101,102],[71,71,110,111],[70,71,115,115],[71,71,115,119],[71,71,124,126],[70,73,126,127],[71,71,133,133],[71,71,147,147],[70,71,155,155],[70,73,158,159],[71,71,167,167],[72,72,86,87],[72,72,89,90],[73,73,86,90],[73,73,83,83],[73,73,92,92],[73,73,107,108],[73,73,131,132],[72,75,136,139],[74,75,139,143],[73,73,141,141],[72,73,163,164],[73,73,156,158],[74,75,97,98],[74,75,118,119],[75,75,118,120],[75,75,92,92],[75,75,101,103],[75,75,106,107],[75,75,113,113],[75,75,125,126],[75,75,143,145],[74,75,155,157],
[76,78,83,83],[77,78,93,94],[77,78,97,98],[77,78,101,102],[77,78,106,107],[77,78,109,111],[76,79,129,130],[77,78,137,137],[77,78,139,140],[77,78,142,143],[77,78,146,146],[77,78,161,162],[79,79,115,116],[79,79,130,131],[79,80,165,166],[79,80,115,118],[79,80,129,132],[80,80,135,137],[80,80,96,96],[80,80,106,107],[80,80,121,122],[82,82,93,95],[82,82,97,98],[81,82,126,128],[82,82,130,130],[82,82,138,138],[81,85,144,145],[82,82,147,147],[82,82,150,150],[81,82,152,154],[82,82,158,158],[82,82,165,165],[83,85,144,147],[85,85,103,104],[85,85,109,109],[85,85,111,113],[85,85,115,115],[85,85,121,122],[85,85,130,130],[85,85,138,138],[85,85,158,158],[85,85,164,164],[86,90,92,92],[86,88,113,113],[88,88,113,116],[86,88,160,160],[88,88,159,162],[88,88,85,85],[88,88,96,96],[88,88,105,105],[88,88,119,119],[88,88,129,129],[88,88,135,135],[88,88,146,146],[88,88,148,149],
[89,90,92,94],[90,90,88,88],[90,90,96,96],[89,90,102,104],[90,90,107,108],[90,90,111,112],[89,90,123,123],[89,90,126,127],[89,90,133,136],[89,90,139,140],[88,93,144,145],[90,90,151,152],[89,90,155,156],[89,90,159,159],[89,90,163,163],[91,93,84,88],[94,94,84,90],[92,93,92,92],[92,93,98,100],[92,93,102,102],[91,93,110,112],[92,93,135,136],[92,93,138,138],[92,93,141,141],[92,93,148,149],[92,93,151,153],[92,93,160,160],[94,94,97,98],[94,94,105,107],[94,94,115,118],[94,94,119,120],[94,94,152,153],[94,94,156,158],[94,94,160,160],[94,94,164,166],[95,97,94,95],[95,97,107,108],[95,96,147,147],[97,97,147,149],[97,97,88,88],[97,97,115,115],[97,97,126,126],[97,97,130,130],[97,97,133,134],[97,97,143,143],[97,97,154,154],
[98,104,113,113],[103,104,113,115],[98,99,123,123],[100,100,123,125],[98,102,165,166],[97,99,158,158],[100,100,156,158],[100,100,115,115],[100,100,129,129],[100,100,141,141],[100,100,143,143],[100,100,146,146],[100,100,151,151],[100,100,161,161],[101,102,84,85],[101,102,92,92],[102,102,101,101],[101,103,105,105],[102,102,109,109],[102,104,121,122],[101,102,123,123],[102,102,131,136],[101,101,131,132],[101,101,134,135],[102,102,139,140],[101,102,147,149],[101,102,151,152],[102,102,156,157],[102,103,159,160],[101,102,163,164],[102,102,167,167],
[104,104,97,98],[103,104,103,107],[103,104,109,109],[103,104,121,124],[104,104,142,143],[103,104,146,146],[103,104,152,153],[103,104,156,160],[106,106,85,85],[106,109,103,104],[106,106,127,127],[106,106,133,134],[106,106,136,136],[105,106,147,147],[107,109,92,92],[107,109,102,104],[107,109,115,116],[107,109,121,123],[109,109,85,85],[109,109,124,125],[109,109,130,130],[109,109,141,141],[109,111,152,153],[109,109,156,158],[109,109,160,160],[109,109,163,163],[110,111,94,97],[110,111,99,100],[110,111,144,145],[110,111,155,156],[111,111,151,156],[111,111,90,91],[111,111,102,102],[111,111,105,105],[111,111,114,115],[111,111,127,129],[111,111,131,132],[111,111,134,134],[111,111,138,138],[111,111,142,143],[111,111,158,158],
[112,113,93,103],[113,113,84,84],[113,113,88,88],[113,113,109,109],[113,118,117,119],[112,113,121,123],[113,113,126,126],[113,113,131,132],[113,113,136,137],[113,113,150,150],[113,113,161,162],[113,113,165,166],[115,116,99,100],[115,116,107,108],[115,118,115,120],[115,116,122,123],[115,116,127,128],[115,116,144,145],[115,116,156,160],[117,118,86,88],[117,118,105,105],[117,118,110,111],[118,118,115,121],[117,118,126,128],[117,118,135,136],[117,118,139,140],[117,118,143,145],[117,118,147,147],[117,118,151,152],[117,118,156,157],[117,118,163,164],[119,122,99,103],[121,123,98,104],[121,121,90,92],[120,121,141,141],[119,121,160,160],[120,121,163,163],[122,123,126,126],[123,123,84,87],[121,123,144,147],[121,123,150,152],[123,124,107,108],[123,123,165,166],[123,123,137,137],
[123,126,165,166],[125,126,85,86],[124,126,107,108],[124,126,110,112],[125,126,139,139],[125,126,162,163],[125,126,165,167],[127,129,107,113],[127,129,124,124],[127,129,152,153],[127,129,157,159],[128,130,92,92],[128,128,103,104],[128,128,116,117],[128,128,127,127],[128,128,131,132],[128,128,134,135],[128,128,139,139],[128,128,144,145],[129,133,94,95],[132,133,94,96],[129,133,118,119],[132,133,118,120],[129,130,126,126],[129,129,105,105],[130,130,88,88],[131,131,96,97],[131,131,99,100],[131,131,103,105],[131,131,107,108],[131,131,124,124],[131,131,136,136],[131,131,140,142],[131,131,145,146],[131,131,148,149],[131,131,162,163],[132,133,89,89],[132,133,131,132],[133,133,85,87],[133,133,99,99],[133,134,102,102],[133,133,135,135],[133,133,145,146],[133,133,148,149],
[134,135,84,85],[135,135,102,104],[134,135,110,112],[135,143,110,115],[133,135,128,129],[135,135,127,129],[135,135,116,119],[135,135,137,138],[135,135,143,143],[135,135,145,146],[135,135,148,148],[135,135,157,158],[135,135,166,167],[136,140,120,121],[136,138,154,158],[137,138,86,87],[137,140,92,92],[137,138,101,102],[137,138,126,126],[137,138,131,132],[137,138,137,138],[137,138,147,147],[137,138,163,164],[137,138,166,167],[140,141,98,99],[140,141,116,117],[140,141,137,138],[140,141,141,142],[140,141,145,146],[140,141,154,155],[140,141,164,164],[140,141,166,167],[142,143,98,102],[141,141,99,100],[142,142,96,96],[142,143,116,116],[142,143,124,124],[141,143,126,128],[142,143,144,144],[142,143,155,155],[141,143,160,162],[142,143,164,164],
[143,145,92,92],[143,145,97,97],[145,147,110,110],[143,145,141,143],[143,146,147,147],[143,145,165,167],[145,145,103,103],[145,145,124,124],[145,145,150,150],[145,145,160,160],[145,147,133,134],[147,147,133,137],[145,147,115,116],[147,147,114,117],[145,147,147,149],[147,147,94,94],[147,147,103,105],[147,147,122,123],[147,147,140,140],[147,147,145,149],[147,147,150,150],[147,147,158,160],[148,152,131,133],[151,152,131,137],[148,150,120,122],[149,150,120,123],[149,150,84,85],[150,150,105,106],[149,150,145,146],[149,150,156,158],[149,150,161,163],[151,152,94,95],[151,152,97,98],[151,152,102,104],[151,152,110,110],[151,152,113,113],[151,152,143,143],[152,152,86,87],[152,152,89,89],[151,152,153,155]
];

var svg = d3.select("svg");

var cellColor = d3.scaleOrdinal()
    .domain([0, 1, 2])
    .range(["#000000", "#a30f00", "#ffff00"]);

function clean(row) { return row.replace(/ /g, ""); }

// turn the typed rows into a matrix of numbers
var matrixA = d3.range(128).map(function(r) {
  return clean(netA[r] || "").padStart(64, "0").split("").map(Number);
});

var matrixB = netBTop.map(function(row) {
  return clean(row).padEnd(168, "1").slice(0, 168).split("").map(Number);
}).concat(netBBottom.map(function(row) {
  return ("0".repeat(84) + clean(row)).padEnd(168, "1").slice(0, 168).split("").map(Number);
}));

// the lower left block stays black, only cells of the typed part get painted
function paint(blocks, value) {
  blocks.forEach(function(b) {
    for (var r = b[0]; r <= b[1]; r++)
      for (var c = b[2]; c <= b[3]; c++)
        if (matrixB[r] && c < 168 && (r < netBTop.length || c >= 84)) matrixB[r][c] = value;
  });
}
paint(netBRed, 1);
paint(netBYellow, 2);
paint(netBBlack, 0);

function drawPanel(matrix, xRange, yRange) {
  var x = d3.scaleLinear().domain([0, matrix[0].length]).range(xRange);
  var y = d3.scaleLinear().domain([0, matrix.length]).range(yRange);
  var cells = [];
  matrix.forEach(function(row, r) {
    row.forEach(function(v, c) { cells.push({r: r, c: c, v: v}); });
  });
  svg.append("g")
      .attr("shape-rendering", "crispEdges")
    .selectAll("rect")
    .data(cells)
    .join("rect")
      .attr("x", function(d) { return x(d.c); })
      .attr("y", function(d) { return y(d.r); })
      .attr("width", function(d) { return x(d.c + 1) - x(d.c); })
      .attr("height", function(d) { return y(d.r + 1) - y(d.r); })
      .attr("fill", function(d) { return cellColor(d.v); });
}

drawPanel(matrixA, [23, 1488], [22.3, 1360]);
drawPanel(matrixB, [1580, 3046], [18, 1360]);

var captionPos = [[380, 749], [1918, 793]];

captions.forEach(function(d, i) {
  var t = svg.append("text")
      .attr("x", captionPos[i][0])
      .attr("y", 1488)
      .attr("textLength", captionPos[i][1])
      .attr("lengthAdjust", "spacing");
  t.append("tspan").text("(");
  t.append("tspan").attr("font-weight", "bold").text(d.tag);
  t.append("tspan").text(")" + d.text);
});

</script>
